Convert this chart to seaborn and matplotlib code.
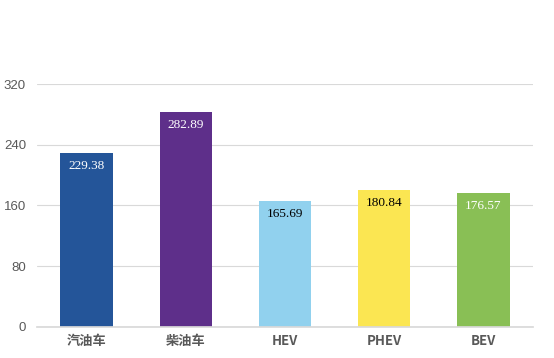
import seaborn as sns
import matplotlib.pyplot as plt

# data
categories = ["汽油车", "柴油车", "HEV", "PHEV", "BEV"]
values = [229.38, 282.89, 165.69, 180.84, 176.57]
bar_colors = ["#245599", "#5E2F8A", "#91D1EE", "#FBE652", "#89BF55"]
label_colors = ["white", "white", "black", "black", "white"]
yticks = [0, 80, 160, 240, 320]

sns.set_theme(style="white")
plt.rcParams['font.family'] = ['Noto Sans CJK SC', 'DejaVu Sans']

fig = plt.figure(figsize=(5.54, 3.58), dpi=100)
ax = fig.add_axes([0.067, 0.087, 0.895, 0.678])

sns.barplot(x=categories, y=values, hue=categories, palette=bar_colors,
            width=0.53, legend=False, ax=ax, saturation=1, linewidth=0)

ax.set_ylim(0, 320)
ax.set_yticks(yticks)
ax.set_xlim(-0.5, 4.5)
ax.grid(axis="y", color="#D9D9D9", linewidth=0.8)
ax.set_axisbelow(True)
for s in ["top", "right", "left"]:
    ax.spines[s].set_visible(False)
ax.spines["bottom"].set_color("#D9D9D9")
ax.tick_params(axis="both", length=0, colors="#595959", labelsize=9.5)
ax.tick_params(axis="x", pad=5)
ax.tick_params(axis="y", pad=8)
for t in ax.get_xticklabels():
    t.set_fontweight("bold")
for t in ax.get_yticklabels():
    t.set_family(["Liberation Sans", "DejaVu Sans"])
    t.set_fontsize(9.5)
ax.set_xlabel("")
ax.set_ylabel("")

for i, (v, c) in enumerate(zip(values, label_colors)):
    ax.text(i, v - 9, f"{v:.2f}", ha="center", va="top", color=c,
            fontsize=9.5, family=["Liberation Serif"])

fig.savefig("out.png", dpi=100)
